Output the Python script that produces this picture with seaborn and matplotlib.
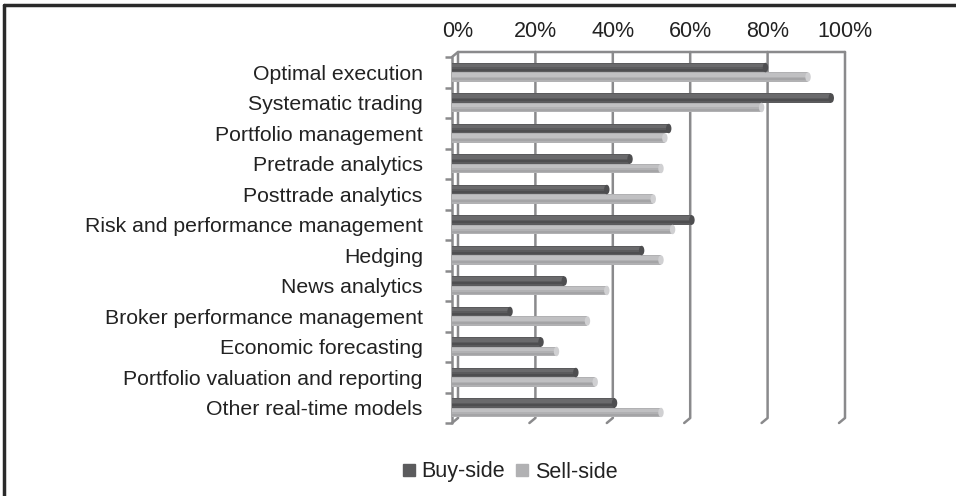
import pandas as pd
import matplotlib.pyplot as plt
import seaborn as sns
from matplotlib.transforms import ScaledTranslation
from matplotlib.lines import Line2D
from matplotlib.patches import Ellipse

categories = ['Optimal execution', 'Systematic trading', 'Portfolio management',
              'Pretrade analytics', 'Posttrade analytics', 'Risk and performance management',
              'Hedging', 'News analytics', 'Broker performance management',
              'Economic forecasting', 'Portfolio valuation and reporting', 'Other real-time models']
buy_side = [81, 98, 56, 46, 40, 62, 49, 29, 15, 23, 32, 42]
sell_side = [92, 80, 55, 54, 52, 57, 54, 40, 35, 27, 37, 54]
series = ['Buy-side', 'Sell-side']
ticks = [0, 20, 40, 60, 80, 100]
tick_labels = ['0%', '20%', '40%', '60%', '80%', '100%']

df = pd.DataFrame({
    'category': categories * 2,
    'value': buy_side + sell_side,
    'side': ['Buy-side'] * len(categories) + ['Sell-side'] * len(categories),
})

sns.set_style('white')
plt.rcParams['font.family'] = ['Liberation Sans', 'DejaVu Sans']
grid_col = '#8a8a8c'
text_col = '#222222'
colors = ['#5b5b5d', '#b1b1b3']

fig = plt.figure(figsize=(9.56, 4.96), dpi=100)
W, H = 956, 496
ax = fig.add_axes([452 / W, (H - 423) / H, 387 / W, 366 / H])

# back wall offset (px)
dxp, dyp = 6, 5
dxa, dya = dxp / 387, dyp / 366

# grid lines on the back wall with slanted floor segment
for v in ticks:
    xf = v / 100
    ax.plot([xf + dxa, xf + dxa, xf], [1 + dya, dya, 0], transform=ax.transAxes,
            color=grid_col, lw=1.8, clip_on=False, zorder=0)
ax.plot([0, dxa, 1 + dxa], [1, 1 + dya, 1 + dya], transform=ax.transAxes,
        color=grid_col, lw=1.8, clip_on=False, zorder=0)
ax.plot([0, 0], [0, 1], transform=ax.transAxes, color=grid_col, lw=1.8,
        clip_on=False, zorder=0)

sns.barplot(data=df, y='category', x='value', hue='side', orient='h',
            palette=colors, width=0.62, saturation=1, linewidth=0,
            ax=ax, legend=False, zorder=3)

# cylinder shading and end caps
for p in list(ax.patches):
    x0, y0 = p.get_x(), p.get_y()
    w, h = p.get_width(), p.get_height()
    fc = p.get_facecolor()
    light = tuple(min(1, c + 0.06) for c in fc[:3])
    dark = tuple(max(0, c - 0.05) for c in fc[:3])
    ax.add_patch(plt.Rectangle((x0, y0 + h * 0.12), w, h * 0.33, color=light, lw=0, zorder=4))
    ax.add_patch(plt.Rectangle((x0, y0 + h * 0.62), w, h * 0.22, color=dark, lw=0, zorder=4))
    cap = tuple(min(1, c + 0.12) for c in fc[:3]) if fc[0] > 0.5 else dark
    ax.add_patch(Ellipse((x0 + w, y0 + h / 2), 1.4, h, color=cap, lw=0, zorder=5))

ax.set_xlim(0, 100)
ax.set_ylim(len(categories) - 0.5, -0.5)
for s in ax.spines.values():
    s.set_visible(False)

ax.xaxis.tick_top()
ax.set_xticks(ticks)
ax.set_xticklabels(tick_labels, fontsize=15.5, color=text_col)
ax.tick_params(axis='x', length=0, pad=11)
for lab in ax.get_xticklabels():
    lab.set_transform(lab.get_transform() + ScaledTranslation(dxp / 100, 0, fig.dpi_scale_trans))

ax.set_yticks(range(len(categories)))
ax.set_yticklabels(categories, fontsize=15.3, color=text_col)
ax.tick_params(axis='y', which='major', length=0, pad=21)
ax.set_yticks([k - 0.5 for k in range(len(categories) + 1)], minor=True)
ax.tick_params(axis='y', which='minor', length=5, width=1.8, color=grid_col, left=True)
ax.set_xlabel('')
ax.set_ylabel('')
ax.grid(False)

handles = [Line2D([], [], marker='s', ls='', color=c, markersize=9) for c in colors]
fig.legend(handles, series, loc='center', bbox_to_anchor=(510 / W, (H - 472) / H),
           ncol=2, frameon=False, fontsize=15.5, handlelength=0.6, handletextpad=0.3,
           columnspacing=0.5, labelcolor=text_col)

# figure frame (top and left)
fig.add_artist(Line2D([4 / W, 1], [1 - 5 / H, 1 - 5 / H], color='#2a2a2a', lw=2.5))
fig.add_artist(Line2D([4 / W, 4 / W], [0, 1 - 5 / H], color='#2a2a2a', lw=2.5))

fig.savefig('out.png', dpi=100)
